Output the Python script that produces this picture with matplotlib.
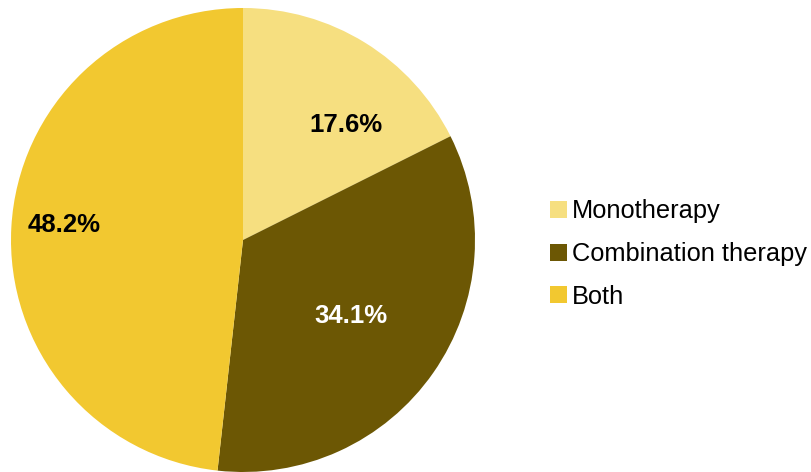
import matplotlib.pyplot as plt

# データ
labels = ['Monotherapy', 'Combination therapy', 'Both']
shares = [17.6, 34.1, 48.2]
colors = ['#F6DF80', '#6C5704', '#F2C830']
text_colors = ['black', 'white', 'black']

# ラベル位置（半径=1の座標）
label_xy = [(0.444, 0.496), (0.466, -0.328), (-0.772, 0.065)]

plt.rcParams['font.family'] = ['Liberation Sans', 'DejaVu Sans']

fig = plt.figure(figsize=(8.11, 4.72), dpi=100)
ax = fig.add_axes([11 / 811, 0 / 472, 464 / 811, 464 / 472])

wedges, _ = ax.pie(shares, colors=colors, startangle=90, counterclock=False,
                   radius=1, wedgeprops=dict(linewidth=0))

for (x, y), v, c in zip(label_xy, shares, text_colors):
    ax.text(x, y, f'{v:.1f}%', ha='center', va='center',
            fontsize=18.5, fontweight='bold', color=c)

ax.set_xlim(-1, 1)
ax.set_ylim(-1, 1)
ax.set_aspect('equal')
ax.axis('off')

fig.legend(wedges, labels, loc='center left', bbox_to_anchor=(550 / 811, 1 - 254 / 472),
           frameon=False, fontsize=18.3, handlelength=0.65, handleheight=0.65,
           handletextpad=0.2, labelspacing=0.74, borderpad=0, borderaxespad=0)

fig.savefig('out.png', dpi=100)
